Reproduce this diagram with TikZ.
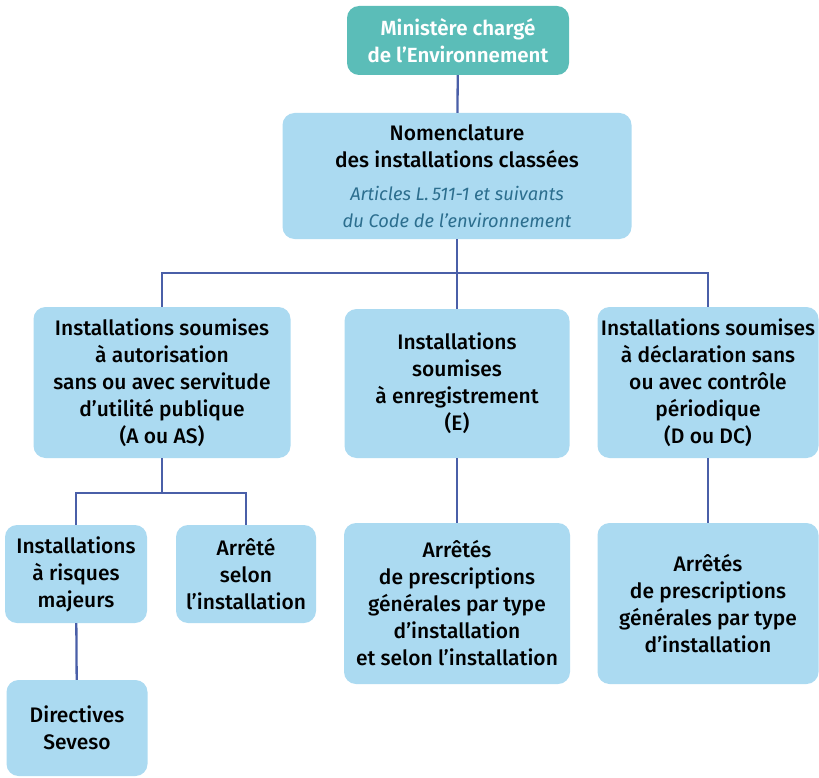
\documentclass[tikz,border=0pt]{standalone}
\usepackage{fontspec}
\setmainfont{Fira Sans}[UprightFont={* Medium},BoldFont={* SemiBold},ItalicFont={* Italic}]
\definecolor{teal}{HTML}{5BBDB8}
\definecolor{boxblue}{HTML}{ABDAF1}
\definecolor{linecol}{HTML}{4A5FA8}
\definecolor{itcol}{HTML}{2C6E8E}
\begin{document}
\begin{tikzpicture}[x=1pt,y=-1pt,
  box/.style={fill=boxblue,rounded corners=12pt,align=center,inner sep=0pt,
    font=\fontsize{21}{27}\selectfont},
  topbox/.style={fill=teal,rounded corners=12pt,align=center,inner sep=0pt,text=white,
    font=\fontsize{20.5}{27}\selectfont\bfseries},
  conn/.style={draw=linecol,line width=2.3pt}]
\useasboundingbox (0,0) rectangle (819,778);
\node[topbox,minimum width=222pt,minimum height=69pt] (top) at (458,40.5) {Ministère chargé\\de l’Environnement};
\node[box,minimum width=349pt,minimum height=126pt] (nom) at (457,176)
  {\fontsize{21}{27}\selectfont Nomenclature\\\fontsize{21}{27}\selectfont des installations classées\\[6pt]
   \fontsize{18.3}{25}\selectfont\itshape\color{itcol}Articles L.\,511-1 et suivants\\
   \fontsize{18.3}{25}\selectfont\itshape\color{itcol}du Code de l’environnement};
\node[box,minimum width=257pt,minimum height=151pt] (A) at (162,382.5)
  {Installations soumises\\à autorisation\\sans ou avec servitude\\d’utilité publique\\(A ou AS)};
\node[box,minimum width=225pt,minimum height=149pt] (E) at (457,383.5)
  {Installations\\soumises\\à enregistrement\\(E)};
\node[box,minimum width=221pt,minimum height=151pt] (D) at (708,382.5)
  {Installations soumises\\à déclaration sans\\ou avec contrôle\\périodique\\(D ou DC)};
\node[box,minimum width=142pt,minimum height=98pt] (maj) at (76,574)
  {Installations\\à risques\\majeurs};
\node[box,minimum width=140pt,minimum height=98pt] (arr) at (246,574)
  {Arrêté\\selon\\l’installation};
\node[box,minimum width=141pt,minimum height=96pt] (sev) at (77,728)
  {Directives\\Seveso};
\node[box,minimum width=226pt,minimum height=161pt] (pe) at (457,603.5)
  {Arrêtés\\de prescriptions\\générales par type\\d’installation\\et selon l’installation};
\node[box,minimum width=221pt,minimum height=161pt] (pd) at (708,603.5)
  {Arrêtés\\de prescriptions\\générales par type\\d’installation};
\coordinate (j1) at (457,273);
\coordinate (j2) at (162,493);
\draw[conn] (top) -- (nom);
\draw[conn] (nom) -- (E);
\draw[conn] (A.north) |- (j1) -| (D.north);
\draw[conn] (A) -- (j2);
\draw[conn] (maj.north) |- (j2) -| (arr.north);
\draw[conn] (maj) -- (sev);
\draw[conn] (E) -- (pe);
\draw[conn] (D) -- (pd);
\end{tikzpicture}
\end{document}
